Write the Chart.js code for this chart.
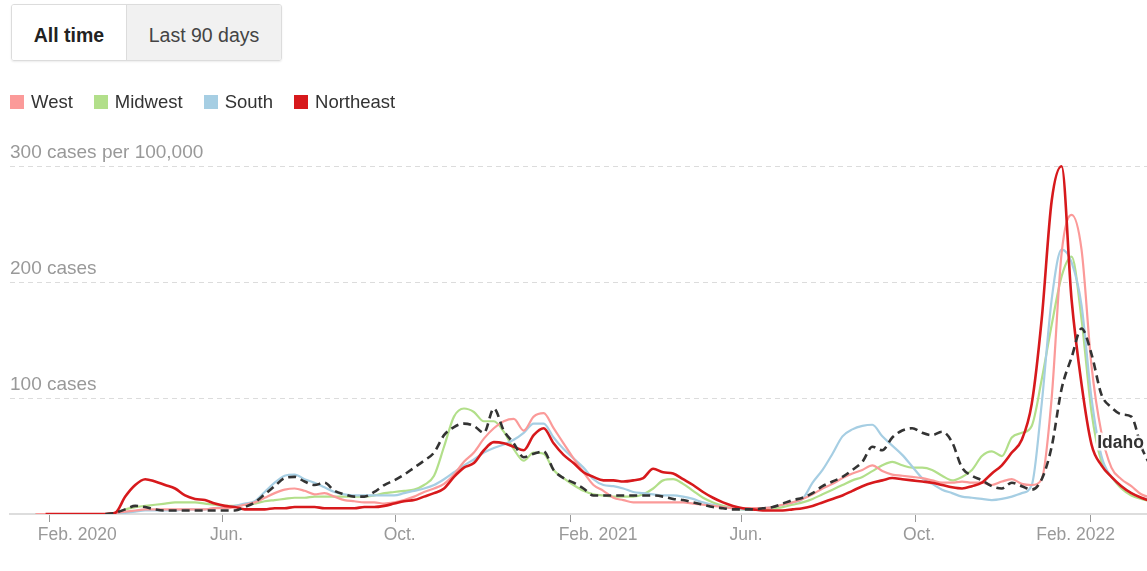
<!DOCTYPE html>
<html>
<head>
<meta charset="utf-8">
<script src="https://cdn.jsdelivr.net/npm/chart.js@4.4.1/dist/chart.umd.min.js"></script>
<style>
  body { margin: 0; background: #fff; font-family: "Liberation Sans", Arial, sans-serif; overflow: hidden; }
  #wrap { position: relative; width: 1147px; height: 571px; }
  #chartBox { position: absolute; left: 0; top: 0; width: 1147px; height: 571px; }
  .toggle { position: absolute; left: 11px; top: 4px; height: 55px; display: flex; border: 1px solid #dcdcdc; border-radius: 3px; box-shadow: 0 1px 2px rgba(0,0,0,.08); overflow: hidden; }
  .toggle div { display: flex; align-items: center; justify-content: center; padding-top: 5px; box-sizing: border-box; font-size: 19.5px; color: #444; }
  .toggle .on { width: 115px; background: #fff; font-weight: bold; color: #222; border-right: 1px solid #dcdcdc; }
  .toggle .off { width: 154px; background: #f1f1f1; }
  .legend { position: absolute; left: 10px; top: 91px; display: flex; font-size: 18.5px; color: #333; }
  .legend .item { display: flex; align-items: center; margin-right: 21px; }
  .legend i { display: inline-block; width: 14px; height: 14px; margin-right: 7px; }
</style>
</head>
<body>
<div id="wrap">
  <div id="chartBox"><canvas id="chartLine"></canvas></div>
  <div class="toggle"><div class="on">All time</div><div class="off">Last 90 days</div></div>
  <div class="legend" id="legend"></div>
</div>
<script>
// weekly dates (7-day averages)
const dates = [
  "2020-01-22","2020-01-29","2020-02-05","2020-02-12","2020-02-19","2020-02-26","2020-03-04","2020-03-11","2020-03-18","2020-03-25",
  "2020-04-01","2020-04-08","2020-04-15","2020-04-22","2020-04-29","2020-05-06","2020-05-13","2020-05-20","2020-05-27","2020-06-03",
  "2020-06-10","2020-06-17","2020-06-24","2020-07-01","2020-07-08","2020-07-15","2020-07-22","2020-07-29","2020-08-05","2020-08-12",
  "2020-08-19","2020-08-26","2020-09-02","2020-09-09","2020-09-16","2020-09-23","2020-09-30","2020-10-07","2020-10-14","2020-10-21",
  "2020-10-28","2020-11-04","2020-11-11","2020-11-18","2020-11-25","2020-12-02","2020-12-09","2020-12-16","2020-12-23","2020-12-30",
  "2021-01-06","2021-01-13","2021-01-20","2021-01-27","2021-02-03","2021-02-10","2021-02-17","2021-02-24","2021-03-03","2021-03-10",
  "2021-03-17","2021-03-24","2021-03-31","2021-04-07","2021-04-14","2021-04-21","2021-04-28","2021-05-05","2021-05-12","2021-05-19",
  "2021-05-26","2021-06-02","2021-06-09","2021-06-16","2021-06-23","2021-06-30","2021-07-07","2021-07-14","2021-07-21","2021-07-28",
  "2021-08-04","2021-08-11","2021-08-18","2021-08-25","2021-09-01","2021-09-08","2021-09-15","2021-09-22","2021-09-29","2021-10-06",
  "2021-10-13","2021-10-20","2021-10-27","2021-11-03","2021-11-10","2021-11-17","2021-11-24","2021-12-01","2021-12-08","2021-12-15",
  "2021-12-22","2021-12-29","2022-01-05","2022-01-12","2022-01-19","2022-01-26","2022-02-02","2022-02-09","2022-02-16","2022-02-23",
  "2022-03-02","2022-03-09","2022-03-16"
];

// cases per 100,000
const west = [
  0,0,0,0,0,0,0,0,
  1,2,3,4,4,4,4,4,4,4,5,5,
  6,8,10,14,18,21,22,20,17,18,15,12,11,10,10,9,
  10,12,15,19,22,26,34,45,53,65,74,80,82,72,
  84,87,74,61,48,36,25,20,14,12,10,10,10,10,10,10,
  9,8,7,6,5,5,5,5,6,8,10,13,17,22,
  26,31,35,38,42,37,34,33,32,31,29,27,27,28,27,27,
  25,28,30,26,25,30,100,225,258,228,128,70,40,30,24,17,14
];
const midwest = [
  0,0,0,0,0,0,0,0,
  1,4,6,7,8,9,10,10,10,9,8,7,
  7,8,9,11,12,13,14,14,15,15,15,15,15,15,16,18,
  19,20,21,25,33,58,84,91,88,80,80,71,56,46,
  53,52,38,31,25,20,17,16,15,15,15,17,22,29,30,26,
  20,14,10,7,5,4,4,4,5,6,8,10,13,17,
  21,25,29,32,37,42,45,42,40,40,38,33,29,32,38,50,
  54,50,66,70,76,116,163,205,222,168,88,45,32,22,16,13,11
];
const south = [
  0,0,0,0,0,0,0,0,
  0,1,2,3,3,3,3,4,4,4,5,6,
  7,9,11,19,27,33,34,30,27,23,19,17,16,16,16,16,
  16,18,20,22,25,30,36,42,47,53,57,60,64,70,
  78,78,66,56,48,40,30,25,24,22,19,18,17,16,16,15,
  13,10,8,6,5,4,4,5,6,8,10,13,27,38,
  52,67,73,76,77,67,59,51,41,31,26,21,18,15,14,13,
  12,13,15,18,25,95,185,228,217,180,100,50,32,24,18,14,12
];
const northeast = [
  null,0,0,0,0,0,0,0,
  1,15,25,30,28,25,22,16,13,12,9,7,
  6,4,4,4,5,5,6,6,6,5,5,5,5,6,6,7,
  9,11,12,15,18,22,32,40,44,55,62,61,58,55,
  68,74,61,51,44,36,32,29,29,28,29,31,39,36,35,30,
  25,19,14,10,7,5,4,3,3,3,4,5,7,10,
  13,16,20,24,27,29,31,30,29,28,27,25,23,22,24,27,
  35,42,53,64,95,168,270,300,185,112,60,42,32,24,18,14,11
];
const idaho = [
  null,null,null,null,null,null,null,
  0,1,4,7,6,4,3,3,3,3,3,3,3,
  3,6,10,17,24,31,32,28,25,27,20,17,15,15,19,25,
  29,34,40,46,53,68,75,78,76,70,91,72,61,49,
  52,54,38,31,27,22,16,16,16,16,16,16,16,15,13,12,
  10,8,6,5,4,4,4,5,6,9,12,14,18,24,
  28,32,38,45,58,55,66,72,74,70,68,71,62,40,33,29,
  24,22,27,24,21,30,58,108,135,160,138,103,92,86,84,58,40
];

const regionNames = ["West", "Midwest", "South", "Northeast"];
const regionColors = ["#fb9a99", "#b2df8a", "#a6cee3", "#d7191c"];

const tickDates = ["2020-02-01", "2020-06-01", "2020-10-01", "2021-02-01", "2021-06-01", "2021-10-01", "2022-02-01"];
const tickLabels = ["Feb. 2020", "Jun.", "Oct.", "Feb. 2021", "Jun.", "Oct.", "Feb. 2022"];
const yTicks = [100, 200, 300];
const yTickLabels = ["100 cases", "200 cases", "300 cases per 100,000"];

const FONT = '"Liberation Sans", Arial, sans-serif';

// days since Feb. 1, 2020
function dayOf(s) {
    const p = s.split("-");
    return (Date.UTC(+p[0], +p[1] - 1, +p[2]) - Date.UTC(2020, 1, 1)) / 864e5;
}

function points(values) {
    return values.map((v, i) => ({ x: dayOf(dates[i]), y: v }));
}

// html legend
const legendEl = document.getElementById("legend");
regionNames.forEach((name, i) => {
    const item = document.createElement("span");
    item.className = "item";
    item.innerHTML = '<i style="background:' + regionColors[i] + '"></i>' + name;
    legendEl.appendChild(item);
});

const regionValues = [west, midwest, south, northeast];
const drawOrder = [2, 4, 3, 1];

const datasets = regionValues.map((vals, i) => ({
    label: regionNames[i],
    data: points(vals),
    borderColor: regionColors[i],
    backgroundColor: regionColors[i],
    borderWidth: i === 3 ? 2.6 : 2.2,
    order: drawOrder[i],
}));
datasets.push({
    label: "Idaho",
    data: points(idaho),
    borderColor: "#333",
    backgroundColor: "#333",
    borderWidth: 2.6,
    borderDash: [8, 5],
    order: 0,
});

// x labels sit just left of their tick, last one kept inside
const axisText = {
    id: "axisText",
    afterDraw(chart) {
        const { ctx, chartArea, scales } = chart;
        ctx.save();
        ctx.font = "17.5px " + FONT;
        ctx.fillStyle = "#999";
        ctx.textBaseline = "middle";
        ctx.textAlign = "left";
        tickDates.forEach((d, i) => {
            const w = ctx.measureText(tickLabels[i]).width;
            let x = scales.x.getPixelForValue(dayOf(d)) - 12;
            x = Math.min(x, chartArea.right - 32 - w);
            ctx.fillText(tickLabels[i], x, chartArea.bottom + 21);
        });
        // series label
        const lx = scales.x.getPixelForValue(dayOf("2022-02-06"));
        const ly = scales.y.getPixelForValue(61);
        ctx.font = "bold 17.5px " + FONT;
        ctx.lineJoin = "round";
        ctx.lineWidth = 5;
        ctx.strokeStyle = "rgba(255,255,255,0.9)";
        ctx.strokeText("Idaho", lx, ly);
        ctx.fillStyle = "#333";
        ctx.fillText("Idaho", lx, ly);
        ctx.restore();
    }
};

const configLineChart = {
    type: "line",
    data: { datasets: datasets },
    options: {
        responsive: true,
        maintainAspectRatio: false,
        animation: false,
        events: [],
        layout: { padding: { top: 121, left: 10, right: 0, bottom: 49 } },
        elements: {
            point: { radius: 0 },
            line: { cubicInterpolationMode: "monotone" },
        },
        plugins: {
            legend: { display: false },
            tooltip: { enabled: false },
        },
        scales: {
            x: {
                type: "linear",
                min: -28,
                max: 771,
                afterBuildTicks: (s) => { s.ticks = tickDates.map((d) => ({ value: dayOf(d) })); },
                grid: { drawOnChartArea: false, drawTicks: true, tickLength: 8, color: "#999" },
                border: { display: true, color: "#ddd", width: 2 },
                ticks: { display: false },
            },
            y: {
                min: 0,
                max: 339,
                afterBuildTicks: (s) => { s.ticks = yTicks.map((v) => ({ value: v })); },
                grid: { drawTicks: false, color: "#dcdcdc" },
                border: { display: false, dash: [5, 4] },
                ticks: {
                    mirror: true,
                    padding: 0,
                    labelOffset: -13,
                    color: "#999",
                    font: { size: 19, family: FONT },
                    callback: (v) => yTickLabels[yTicks.indexOf(v)],
                },
            },
        },
    },
    plugins: [axisText],
};

var chartLine = new Chart(document.getElementById("chartLine"), configLineChart);
</script>
</body>
</html>
